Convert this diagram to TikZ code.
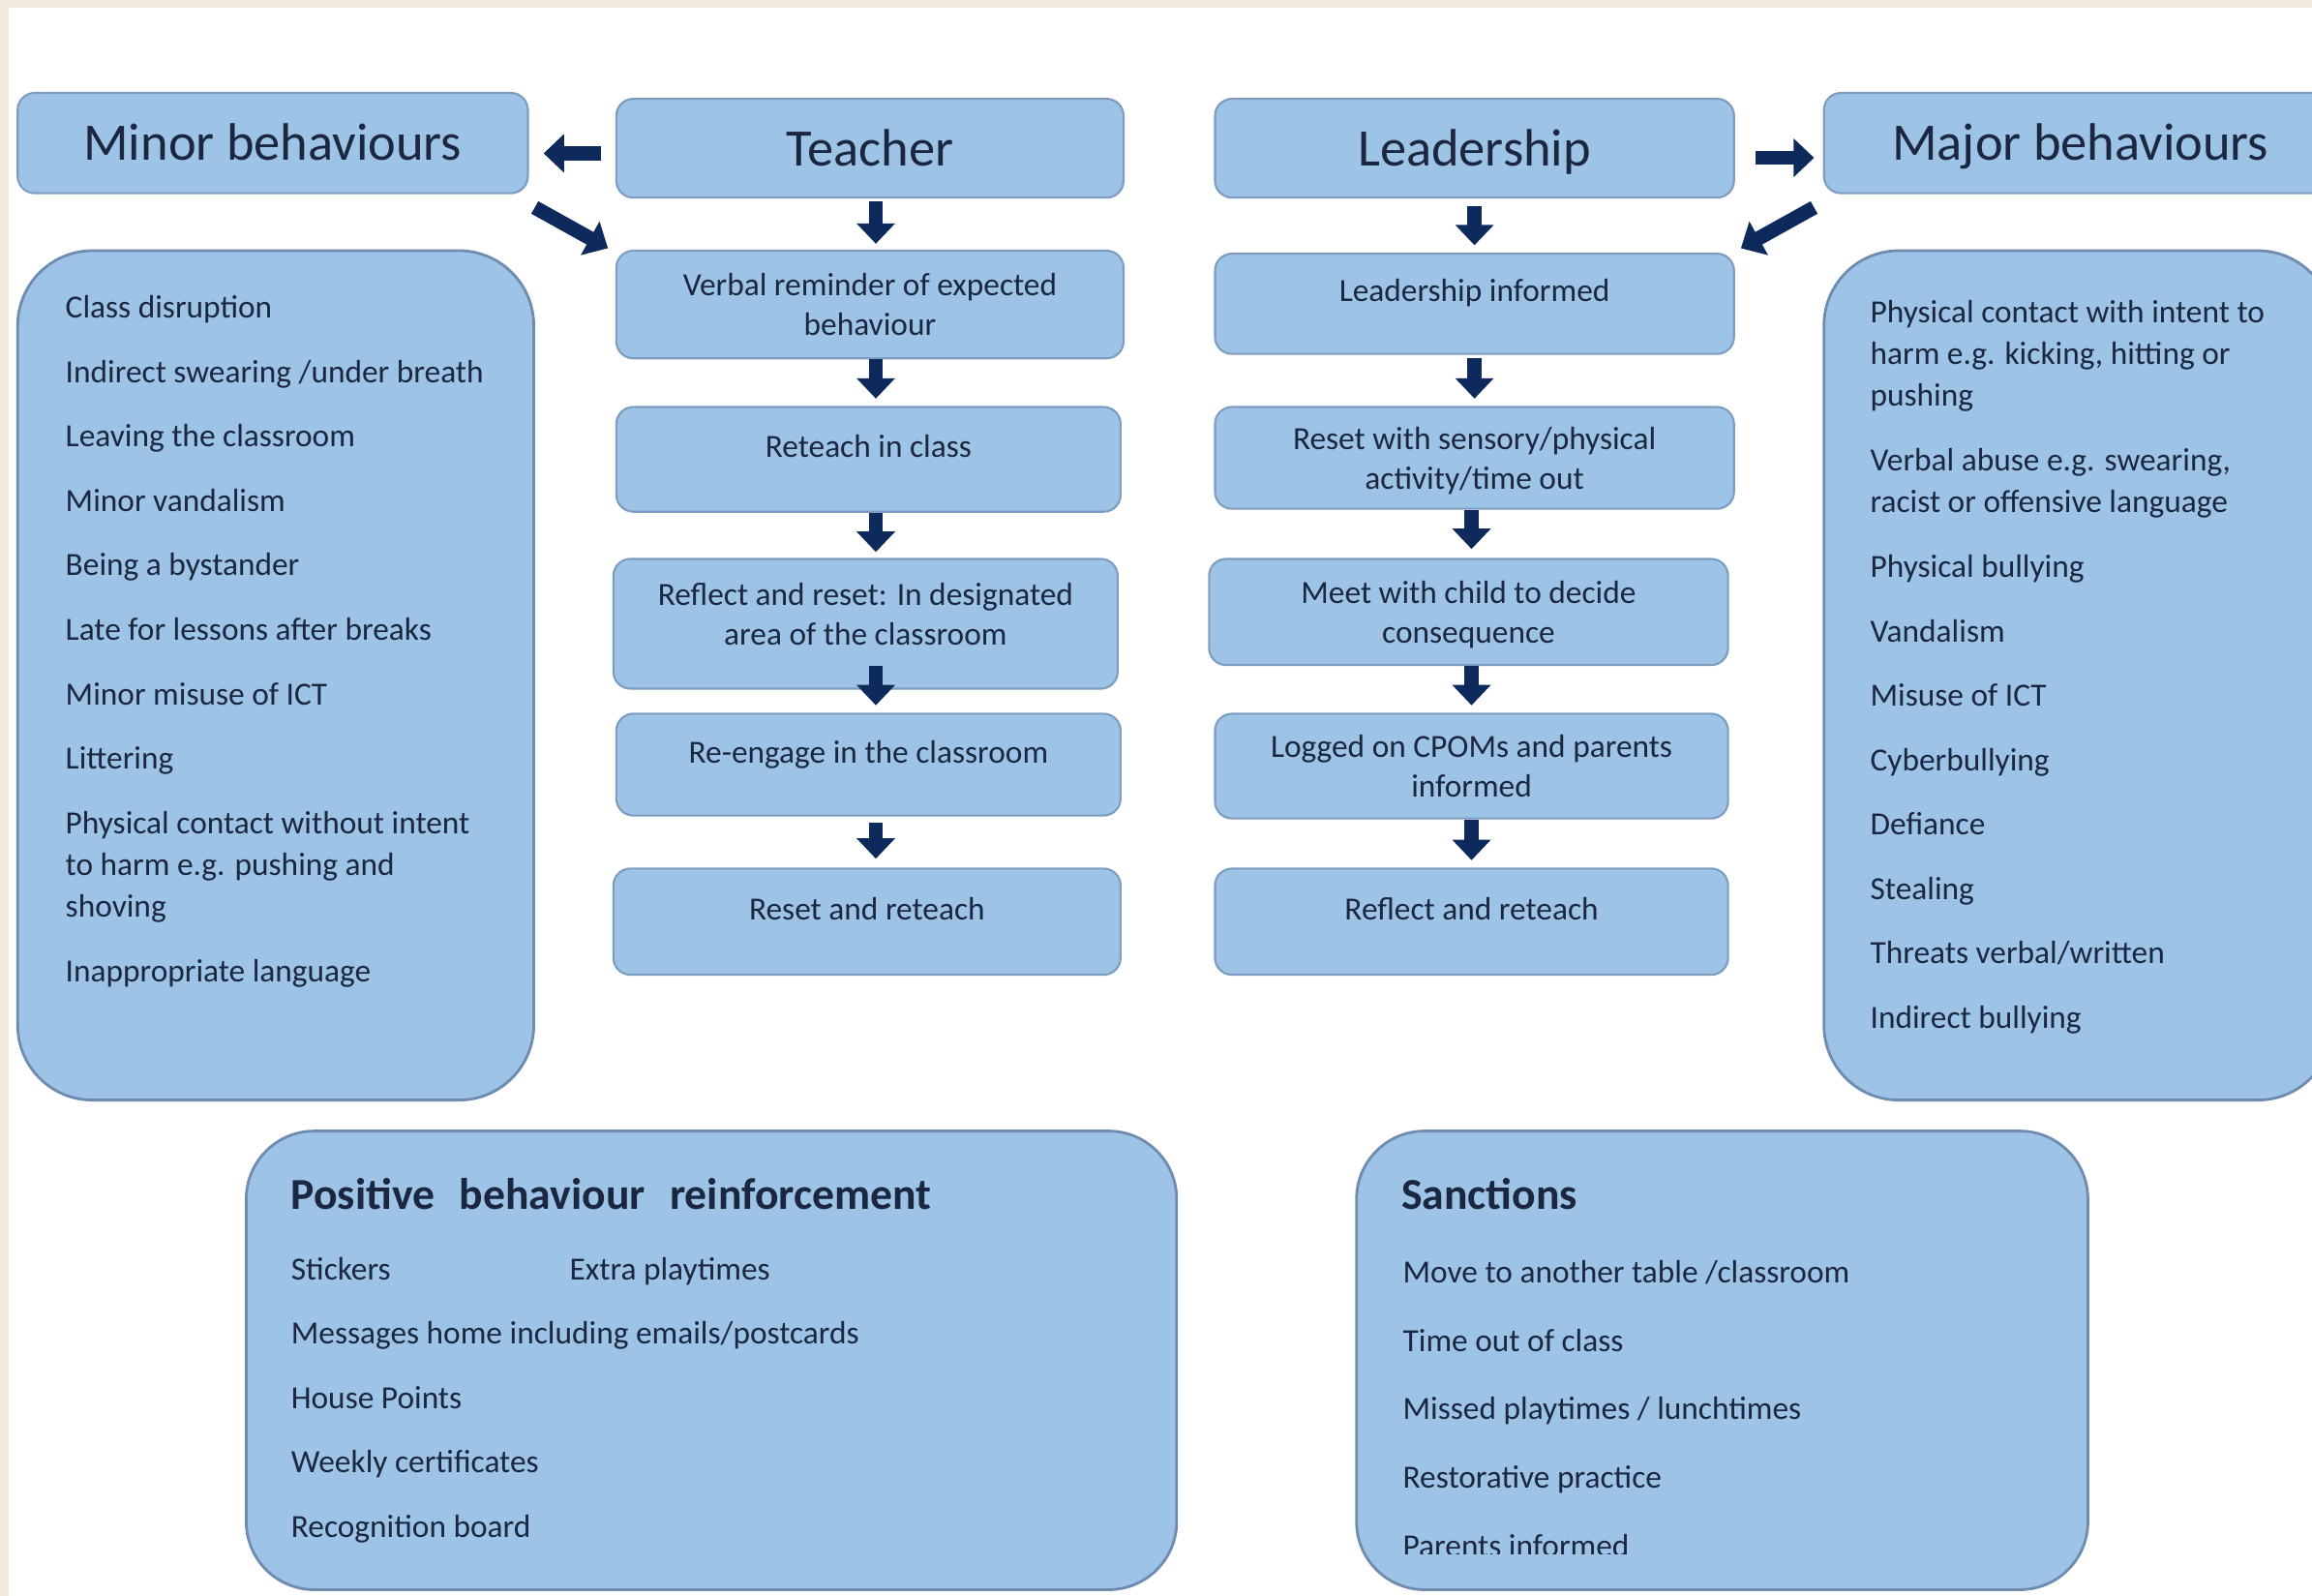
\documentclass[tikz,border=0pt]{standalone}
\usepackage{fontspec}
\setmainfont{Carlito}
\usetikzlibrary{arrows.meta}
\definecolor{boxfill}{HTML}{9DC3E6}
\definecolor{boxline}{HTML}{7D9CC0}
\definecolor{bigline}{HTML}{6F8CB0}
\definecolor{txt}{HTML}{1B2740}
\definecolor{navy}{HTML}{0E2A5C}
\definecolor{beige}{HTML}{F3EADF}
\def\pu{0.015236cm}
\newcommand\liftt[2][2.8pt]{\raisebox{#1}[\height][\depth]{\begin{tabular}{@{}c@{}}#2\end{tabular}}}
\begin{document}
\begin{tikzpicture}[x=0.015236cm, y=-0.015236cm,
  box/.style={draw=boxline, fill=boxfill, rounded corners=5pt, line width=0.6pt,
    inner sep=0pt, align=center, text=txt, font=\fontsize{9.5}{11.7}\selectfont},
  hdr/.style={box, font=\fontsize{15.5}{18}\selectfont, text height=11.6pt, text depth=1.3pt},
  big/.style={draw=bigline, fill=boxfill, line width=0.8pt, inner sep=0pt},
  lst/.style={inner sep=0pt, align=left, text=txt, font=\fontsize{9.5}{12.35}\selectfont},
  ttl/.style={inner sep=0pt, text=txt, font=\fontsize{13}{15}\selectfont\bfseries},
  blk/.style={draw=navy, line width=4.2pt, -{Triangle[length=6pt,width=11pt]}}]
% background
\useasboundingbox (0,0) rectangle (1568,1082);
\fill[white] (0,0) rectangle (1568,1082);
\fill[beige] (0,0) rectangle (1568,5);
\fill[beige] (0,0) rectangle (6,1082);

% headers
\node[hdr, minimum width=346*\pu, minimum height=68*\pu] (minorh) at (185,97) {Minor behaviours};
\node[hdr, minimum width=344*\pu, minimum height=67*\pu] (teacher) at (590,100.5) {Teacher};
\node[hdr, minimum width=352*\pu, minimum height=67*\pu] (leader) at (1000,100.5) {Leadership};
\node[hdr, minimum width=348*\pu, minimum height=68*\pu] (majorh) at (1411,97) {Major behaviours};

% teacher column
\node[box, minimum width=344*\pu, minimum height=73*\pu] (t1) at (590,206.5) {\liftt[-1pt]{Verbal reminder of expected\\behaviour}};
\node[box, minimum width=342*\pu, minimum height=71*\pu] (t2) at (589,311.5) {\liftt{Reteach in class}};
\node[box, minimum width=342*\pu, minimum height=88*\pu] (t3) at (587,423) {\liftt[2pt]{Reflect and reset: In designated\\area of the classroom}};
\node[box, minimum width=342*\pu, minimum height=69*\pu] (t4) at (589,518.5) {\liftt{Re-engage in the classroom}};
\node[box, minimum width=344*\pu, minimum height=72*\pu] (t5) at (588,625) {\liftt{Reset and reteach}};

% leadership column
\node[box, minimum width=352*\pu, minimum height=68*\pu] (l1) at (1000,206) {\liftt[3pt]{Leadership informed}};
\node[box, minimum width=352*\pu, minimum height=69*\pu] (l2) at (1000,310.5) {\liftt[-1pt]{Reset with sensory/physical\\activity/time out}};
\node[box, minimum width=352*\pu, minimum height=72*\pu] (l3) at (996,415) {\liftt[-1pt]{Meet with child to decide\\consequence}};
\node[box, minimum width=348*\pu, minimum height=71*\pu] (l4) at (998,519.5) {\liftt[-1pt]{Logged on CPOMs and parents\\informed}};
\node[box, minimum width=348*\pu, minimum height=72*\pu] (l5) at (998,625) {\liftt{Reflect and reteach}};

% side lists
\node[big, rounded corners=22pt, minimum width=350*\pu, minimum height=576*\pu] (minorbox) at (187,458) {};
\node[lst, anchor=north west] (minorlist) at (44,200) {Class disruption\\[6.6pt]
Indirect swearing /under breath\\[6.6pt]
Leaving the classroom\\[6.6pt]
Minor vandalism\\[6.6pt]
Being a bystander\\[6.6pt]
Late for lessons after breaks\\[6.6pt]
Minor misuse of ICT\\[6.6pt]
Littering\\[6.6pt]
Physical contact without intent\\
to harm e.g. pushing and\\
shoving\\[6.6pt]
Inappropriate language};

\node[big, rounded corners=22pt, minimum width=345*\pu, minimum height=576*\pu] (majorbox) at (1409.5,458) {};
\node[lst, anchor=north west] (majorlist) at (1268,203) {Physical contact with intent to\\
harm e.g. kicking, hitting or\\
pushing\\[6.6pt]
Verbal abuse e.g. swearing,\\
racist or offensive language\\[6.6pt]
Physical bullying\\[6.6pt]
Vandalism\\[6.6pt]
Misuse of ICT\\[6.6pt]
Cyberbullying\\[6.6pt]
Defiance\\[6.6pt]
Stealing\\[6.6pt]
Threats verbal/written\\[6.6pt]
Indirect bullying};

% bottom boxes
\node[big, rounded corners=20pt, minimum width=631*\pu, minimum height=311*\pu] (posbox) at (482.5,922.5) {};
\node[ttl, anchor=base west] (postitle) at (197,820) {Positive\hspace{4.3pt} behaviour\hspace{4.3pt} reinforcement};
\node[lst, anchor=north west, font=\fontsize{9.5}{18.94}\selectfont] (poslist) at (197,852) {\makebox[81.9pt][l]{Stickers}Extra playtimes\\
Messages home including emails/postcards\\
House Points\\
Weekly certificates\\
Recognition board};

\node[big, rounded corners=20pt, minimum width=496*\pu, minimum height=311*\pu] (sanbox) at (1168,922.5) {};
\node[ttl, anchor=base west] (santitle) at (950,820) {Sanctions};
\begin{scope}
\clip (920,767) rectangle (1416,1054);
\node[lst, anchor=north west, font=\fontsize{9.5}{20.2}\selectfont] (sanlist) at (951,854) {Move to another table /classroom\\
Time out of class\\
Missed playtimes / lunchtimes\\
Restorative practice\\
Parents informed};
\end{scope}

% arrows
\draw[blk] ([shift={(-10,3.5)}]teacher.west) -- ([shift={(10,7)}]minorh.east);
\draw[blk] ([shift={(4,9)}]minorh.south east) -- ([shift={(-5,-1)}]t1.north west);
\draw[blk] ([shift={(14,6.5)}]leader.east) -- ([shift={(-6,10)}]majorh.west);
\draw[blk] ([shift={(-6,9)}]majorh.south west) -- ([shift={(4,-3)}]l1.north east);

\draw[blk] ([shift={(4,2)}]teacher.south) -- ([shift={(4,-4)}]t1.north);
\draw[blk] ([shift={(4,0)}]t1.south) -- ([shift={(5,-5)}]t2.north);
\draw[blk] ([shift={(5,0)}]t2.south) -- ([shift={(7,-4)}]t3.north);
\draw[blk] ([shift={(7,-16)}]t3.south) -- ([shift={(5,-5)}]t4.north);
\draw[blk] ([shift={(5,4)}]t4.south) -- ([shift={(6,-6)}]t5.north);

\draw[blk] ([shift={(0,5)}]leader.south) -- ([shift={(0,-5)}]l1.north);
\draw[blk] ([shift={(0,2)}]l1.south) -- ([shift={(0,-5)}]l2.north);
\draw[blk] ([shift={(-2,0)}]l2.south) -- ([shift={(2,-6)}]l3.north);
\draw[blk] ([shift={(2,0)}]l3.south) -- ([shift={(0,-5)}]l4.north);
\draw[blk] ([shift={(0,0)}]l4.south) -- ([shift={(0,-5)}]l5.north);
\end{tikzpicture}
\end{document}
